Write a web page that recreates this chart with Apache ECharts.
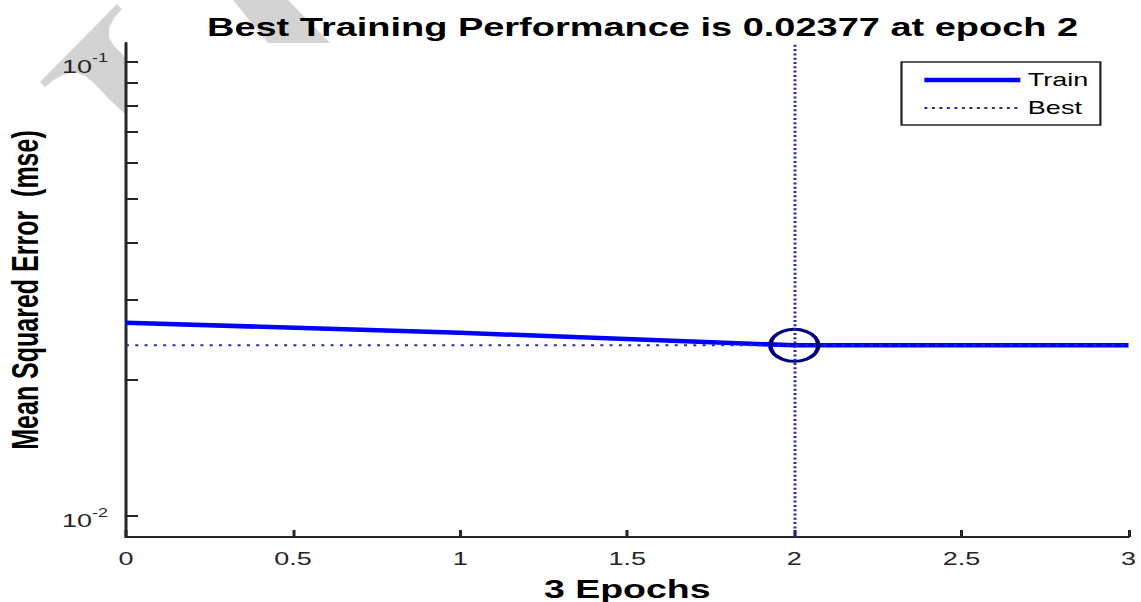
<!DOCTYPE html>
<html>
<head>
<meta charset="utf-8">
<script src="https://cdn.jsdelivr.net/npm/echarts@6/dist/echarts.min.js"></script>
<style>
  html, body { margin: 0; padding: 0; background: #fff; overflow: hidden; }
  /* the source picture is stretched sideways by about 1.5, so draw narrow and stretch */
  #main { width: 760.667px; height: 602px; transform: scaleX(1.5); transform-origin: 0 0; }
</style>
</head>
<body>
<div id="main"></div>
<script>
// training record
var epochs = [0, 1, 2, 3];
var trainMse = [0.02666, 0.02533, 0.02377, 0.02377];
var bestEpoch = 2;
var bestMse = 0.02377;
// axes
var xMin = 0, xMax = 3, xStep = 0.5;
var yMin = 0.009, yMax = 0.11;
var yTickValues = [0.01, 0.02, 0.03, 0.04, 0.05, 0.06, 0.07, 0.08, 0.09, 0.1];
var yLabelValues = [0.01, 0.1];

var FONT = 'Liberation Sans';
var INK = '#262626';
var BEST = '#2a2aa8';
var TICK_LEN = 8;

var chart = echarts.init(document.getElementById('main'), null, { renderer: 'svg' });

var option = {
  animation: false,
  backgroundColor: '#fff',
  title: {
    text: 'Best Training Performance is ' + bestMse + ' at epoch ' + bestEpoch,
    left: 138,
    top: 15,
    padding: 0,
    textStyle: { fontFamily: FONT, fontWeight: 'bold', fontSize: 25.3, color: '#000' }
  },
  // grey watermark pieces behind the figure
  graphic: [
    {
      type: 'polygon', z: 0, silent: true,
      shape: { points: [[26.7, 82], [78, 4], [81.3, 9], [76, 18], [72.7, 28], [72.7, 38], [76, 46], [80, 52], [84, 58],
        [84, 115], [73.3, 100], [63.3, 84], [56.7, 76], [49.3, 72], [42, 75], [34.7, 81], [30, 87]] },
      style: { fill: '#d3d3d3' }
    },
    {
      type: 'polygon', z: 0, silent: true,
      shape: { points: [[155.3, 0], [192, 0], [220, 43], [178.7, 43]] },
      style: { fill: '#d3d3d3' }
    }
  ],
  legend: {
    orient: 'vertical',
    left: 601,
    top: 62,
    padding: [9, 8, 8, 13],
    itemWidth: 64,
    itemHeight: 14,
    itemGap: 10,
    backgroundColor: '#fff',
    borderColor: INK,
    borderWidth: 1.5,
    borderRadius: 0,
    itemStyle: { color: 'transparent', borderWidth: 0, opacity: 0 },
    data: [
      { name: 'Train', lineStyle: { width: 4.5 } },
      { name: 'Best', lineStyle: { width: 2, type: [2, 3] } }
    ],
    textStyle: { fontFamily: FONT, fontSize: 18, color: '#000' }
  },
  grid: {
    left: 84, right: 8.667, top: 43, bottom: 65,
    containLabel: false, outerBoundsMode: 'none',
    show: true, backgroundColor: '#fff', borderWidth: 0
  },
  xAxis: {
    type: 'value',
    min: xMin,
    max: xMax,
    interval: xStep,
    name: epochs.length - 1 + ' Epochs',
    nameLocation: 'middle',
    nameGap: 39,
    nameTextStyle: { fontFamily: FONT, fontWeight: 'bold', fontSize: 25, lineHeight: 26, color: '#000' },
    axisLine: { lineStyle: { color: INK, width: 2 } },
    axisTick: { inside: true, length: 7, lineStyle: { color: INK, width: 2 } },
    axisLabel: { margin: 13, fontFamily: FONT, fontSize: 18, color: INK },
    splitLine: { show: false }
  },
  yAxis: [
    {
      type: 'log',
      logBase: 10,
      min: yMin,
      max: yMax,
      name: 'Mean Squared Error  (mse)',
      nameLocation: 'middle',
      nameGap: 55,
      nameTextStyle: { fontFamily: FONT, fontWeight: 'bold', fontSize: 25, color: '#000' },
      axisLine: { lineStyle: { color: INK, width: 2 } },
      axisTick: { show: false },
      axisLabel: {
        margin: 12,
        customValues: yLabelValues,
        formatter: function (v) {
          return '{b|10}{s|' + Math.round(Math.log10(v)) + '}';
        },
        rich: {
          b: { fontFamily: FONT, fontSize: 18, lineHeight: 18, color: INK, padding: [10, 0, 0, 0] },
          s: { fontFamily: FONT, fontSize: 12, lineHeight: 12, color: INK, padding: [4, 0, 12, 0] }
        }
      },
      splitLine: { show: false }
    },
    {
      // tick-only copy of the log axis, shifted into the plot so its ticks point inward
      type: 'log',
      logBase: 10,
      min: yMin,
      max: yMax,
      position: 'left',
      offset: -TICK_LEN,
      axisLine: { show: false },
      axisTick: { show: true, inside: false, length: TICK_LEN, customValues: yTickValues, lineStyle: { color: INK, width: 2 } },
      axisLabel: { show: false },
      splitLine: { show: false }
    }
  ],
  series: [
    {
      name: 'Train',
      type: 'line',
      data: epochs.map(function (e, i) { return [e, trainMse[i]]; }),
      symbol: 'none',
      color: '#0000ff',
      lineStyle: { color: '#0000ff', width: 4.5 },
      z: 2
    },
    {
      name: 'Best',
      type: 'line',
      data: [[xMin, bestMse], [xMax, bestMse]],
      symbol: 'none',
      color: BEST,
      lineStyle: { color: BEST, width: 2, type: [2, 4.2] },
      z: 3,
      markLine: {
        silent: true,
        symbol: ['none', 'none'],
        label: { show: false },
        lineStyle: { color: BEST, width: 2, type: [2, 2.3] },
        data: [{ xAxis: bestEpoch }]
      }
    },
    {
      name: 'marker',
      type: 'scatter',
      data: [[bestEpoch, bestMse]],
      symbol: 'circle',
      symbolSize: 32,
      itemStyle: { color: 'rgba(0,0,0,0)', borderColor: '#00007f', borderWidth: 3, opacity: 1 },
      z: 4
    }
  ]
};

chart.setOption(option);
</script>
</body>
</html>
